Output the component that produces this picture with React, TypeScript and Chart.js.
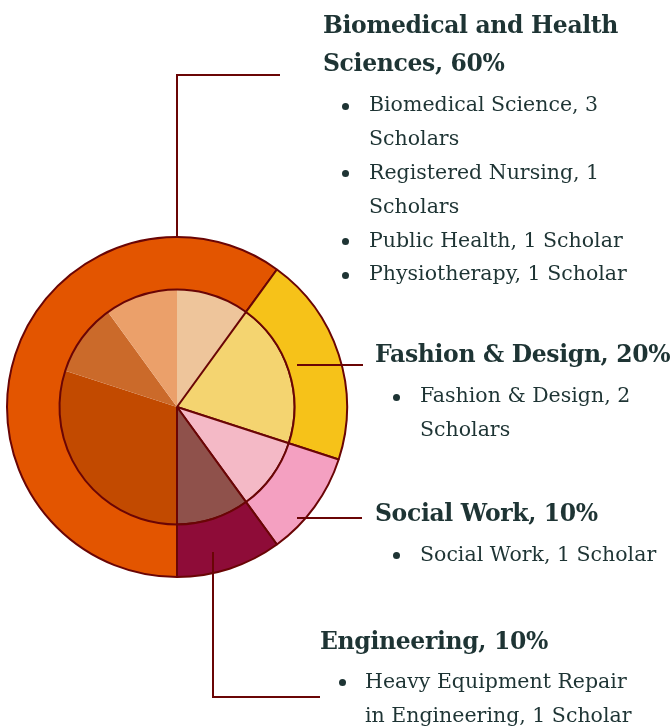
import React, { useEffect, useRef } from "react";
import { Chart, registerables } from "chart.js";

Chart.register(...registerables);

// ---- data ----
const groups = ["Biomedical and Health Sciences", "Fashion & Design", "Social Work", "Engineering"];
const groupShares = [60, 20, 10, 10];
const groupColors = ["#E35500", "#F6C219", "#F4A0C1", "#8E0C38"];

const subcategories = [
  "Biomedical Science",
  "Registered Nursing",
  "Public Health",
  "Physiotherapy",
  "Fashion & Design",
  "Social Work",
  "Heavy Equipment Repair in Engineering",
];
const scholars = [3, 1, 1, 1, 2, 1, 1];
const subColors = ["#C24A00", "#CB6A2A", "#EBA06A", "#EEC59B", "#F4D470", "#F4B9C6", "#8F514B"];
const subBorderWidths = [0, 0, 0, 0, 2, 2, 2];

// text lines (as wrapped in the reference)
const titleLines = [["Biomedical and Health", "Sciences, 60%"], ["Fashion & Design, 20%"], ["Social Work, 10%"], ["Engineering, 10%"]];
const bulletLines = [
  [["Biomedical Science, 3", "Scholars"], ["Registered Nursing, 1", "Scholars"], ["Public Health, 1 Scholar"], ["Physiotherapy, 1 Scholar"]],
  [["Fashion & Design, 2", "Scholars"]],
  [["Social Work, 1 Scholar"]],
  [["Heavy Equipment Repair", "in Engineering, 1 Scholar"]],
];

// ---- layout ----
const BORDER = "#6A0505";
const TEXT = "#1E3434";
const FONT = "'DejaVu Serif', serif";
const TITLE_FS = 23.5;
const BODY_FS = 20.5;
const blocks = [
  { titleX: 323, titleBase: [34, 72], dotX: 345, textX: 369, firstBase: 112.5 },
  { titleX: 375, titleBase: [363], dotX: 396, textX: 420, firstBase: 403.5 },
  { titleX: 375, titleBase: [522], dotX: 396, textX: 420, firstBase: 562 },
  { titleX: 320, titleBase: [650], dotX: 342, textX: 365, firstBase: 689 },
];
const BODY_LH = 33.8;

// leader lines, offsets from pie centre
const leaders = [
  [[0, -170], [0, -332], [103, -332]],
  [[120, -42], [186, -42]],
  [[120, 111], [185, 111]],
  [[36, 145], [36, 290], [143, 290]],
];

const leaderPlugin = {
  id: "leaders",
  afterDatasetsDraw(chart: any) {
    const arc = chart.getDatasetMeta(0).data[0];
    if (!arc) return;
    const cx = arc.x, cy = arc.y;
    const ctx = chart.ctx;
    ctx.save();
    ctx.strokeStyle = BORDER;
    ctx.lineWidth = 2;
    ctx.lineCap = "butt";
    ctx.lineJoin = "miter";
    for (const pts of leaders) {
      ctx.beginPath();
      pts.forEach(([dx, dy], i) => (i ? ctx.lineTo(cx + dx, cy + dy) : ctx.moveTo(cx + dx, cy + dy)));
      ctx.stroke();
    }
    ctx.restore();
  },
};

function TextLine({ x, base, fs, bold, children }: any) {
  const asc = 0.928 * fs;
  return (
    <div
      style={{
        position: "absolute",
        left: x,
        top: base - asc,
        fontFamily: FONT,
        fontSize: fs,
        fontWeight: bold ? 700 : 400,
        letterSpacing: bold ? "-0.35px" : "0px",
        lineHeight: `${1.164 * fs}px`,
        color: TEXT,
        whiteSpace: "nowrap",
      }}
    >
      {children}
    </div>
  );
}

export default function App() {
  const ref = useRef<HTMLCanvasElement>(null);
  useEffect(() => {
    const chart = new Chart(ref.current!, {
      type: "doughnut",
      data: {
        labels: subcategories,
        datasets: [
          {
            label: "Field share (%)",
            data: groupShares,
            backgroundColor: groupColors,
            borderColor: BORDER,
            borderWidth: 2,
            weight: 52.5,
          } as any,
          {
            label: "Scholars",
            data: scholars,
            backgroundColor: subColors,
            borderColor: BORDER,
            borderWidth: subBorderWidths,
            weight: 117.5,
          } as any,
        ],
      },
      options: {
        responsive: false,
        animation: false,
        cutout: 0,
        radius: 170,
        rotation: 180,
        events: [],
        layout: { padding: { left: 0, top: 230, right: 318, bottom: 143 } },
        plugins: { legend: { display: false }, tooltip: { enabled: false } },
      } as any,
      plugins: [leaderPlugin],
    });
    return () => chart.destroy();
  }, []);

  const items: any[] = [];
  blocks.forEach((b, gi) => {
    titleLines[gi].forEach((t, li) =>
      items.push(
        <TextLine key={`t${gi}-${li}`} x={b.titleX} base={b.titleBase[li]} fs={TITLE_FS} bold>
          {t}
        </TextLine>
      )
    );
    let line = 0;
    bulletLines[gi].forEach((bl, bi) => {
      const base0 = b.firstBase + line * BODY_LH;
      items.push(
        <div
          key={`d${gi}-${bi}`}
          style={{
            position: "absolute",
            left: b.dotX - 3.5,
            top: base0 - 6.5 - 3.5,
            width: 7,
            height: 7,
            borderRadius: "50%",
            background: TEXT,
          }}
        />
      );
      bl.forEach((s, si) => {
        items.push(
          <TextLine key={`b${gi}-${bi}-${si}`} x={b.textX} base={b.firstBase + line * BODY_LH} fs={BODY_FS}>
            {s}
          </TextLine>
        );
        line++;
      });
    });
  });

  return (
    <div style={{ position: "absolute", left: 0, top: 0, width: 672, height: 727, overflow: "hidden", background: "#fff" }}>
      <canvas ref={ref} width={672} height={727} style={{ position: "absolute", left: 0, top: 0 }} />
      {items}
    </div>
  );
}
